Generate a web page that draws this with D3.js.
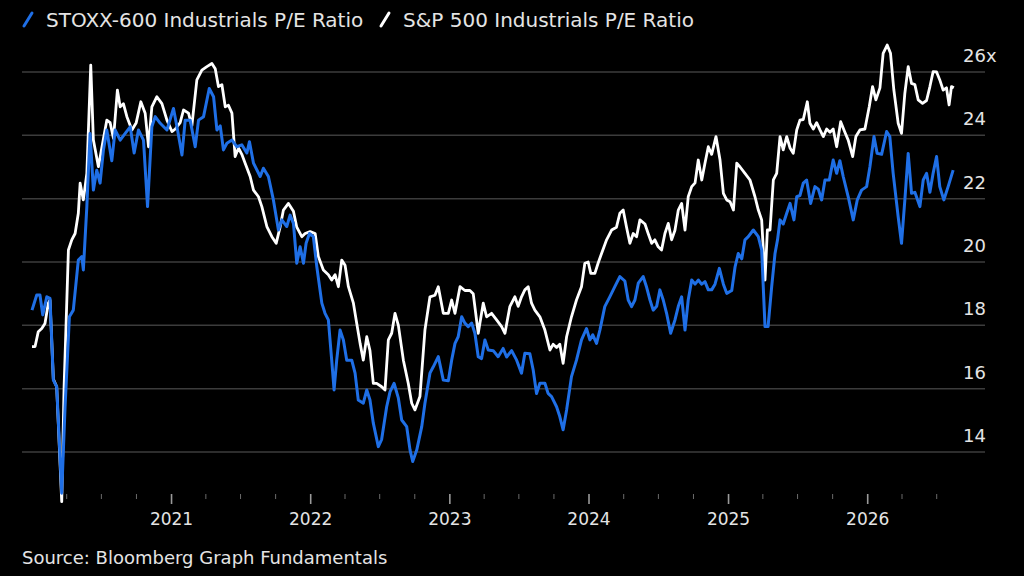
<!DOCTYPE html>
<html>
<head>
<meta charset="utf-8">
<script src="https://cdn.jsdelivr.net/npm/d3@7"></script>
<style>
  html, body { margin: 0; padding: 0; background: #000; }
  svg { display: block; }
  text { font-family: "DejaVu Sans", Verdana, sans-serif; fill: #e4e4e4; }
</style>
</head>
<body>
<svg id="chart" width="1024" height="576"></svg>
<script>
// dates are decimal years (2020.5 = mid 2020)
const stoxxTime = [
  2020.000, 2020.034, 2020.057, 2020.077, 2020.106, 2020.129, 2020.153, 2020.177, 2020.213, 2020.237,
  2020.268, 2020.296, 2020.332, 2020.357, 2020.368, 2020.393, 2020.416, 2020.440, 2020.464, 2020.488,
  2020.512, 2020.536, 2020.572, 2020.596, 2020.632, 2020.668, 2020.704, 2020.732, 2020.763, 2020.799,
  2020.828, 2020.859, 2020.883, 2020.919, 2020.967, 2021.014, 2021.039, 2021.075, 2021.098, 2021.134,
  2021.170, 2021.194, 2021.230, 2021.271, 2021.302, 2021.326, 2021.350, 2021.373, 2021.398, 2021.434,
  2021.469, 2021.505, 2021.541, 2021.560, 2021.589, 2021.637, 2021.660, 2021.696, 2021.732, 2021.768,
  2021.793, 2021.828, 2021.852, 2021.876, 2021.900, 2021.924, 2021.948, 2021.967, 2021.991, 2022.019,
  2022.044, 2022.080, 2022.103, 2022.127, 2022.151, 2022.168, 2022.187, 2022.211, 2022.235, 2022.259,
  2022.295, 2022.319, 2022.342, 2022.378, 2022.403, 2022.426, 2022.450, 2022.486, 2022.510, 2022.546,
  2022.570, 2022.599, 2022.630, 2022.654, 2022.690, 2022.714, 2022.733, 2022.762, 2022.798, 2022.821,
  2022.857, 2022.881, 2022.917, 2022.953, 2022.989, 2023.013, 2023.037, 2023.060, 2023.085, 2023.108,
  2023.132, 2023.157, 2023.180, 2023.204, 2023.228, 2023.252, 2023.276, 2023.312, 2023.347, 2023.383,
  2023.408, 2023.444, 2023.480, 2023.515, 2023.539, 2023.575, 2023.599, 2023.623, 2023.647, 2023.683,
  2023.706, 2023.731, 2023.767, 2023.790, 2023.814, 2023.839, 2023.874, 2023.910, 2023.946, 2023.982,
  2024.006, 2024.027, 2024.054, 2024.078, 2024.113, 2024.149, 2024.185, 2024.221, 2024.257, 2024.281,
  2024.305, 2024.329, 2024.353, 2024.388, 2024.413, 2024.437, 2024.460, 2024.485, 2024.508, 2024.532,
  2024.556, 2024.585, 2024.616, 2024.640, 2024.664, 2024.688, 2024.711, 2024.736, 2024.760, 2024.783,
  2024.808, 2024.831, 2024.855, 2024.879, 2024.903, 2024.934, 2024.963, 2024.987, 2025.023, 2025.047,
  2025.070, 2025.095, 2025.118, 2025.142, 2025.178, 2025.214, 2025.238, 2025.262, 2025.284, 2025.310,
  2025.334, 2025.352, 2025.370, 2025.393, 2025.418, 2025.442, 2025.470, 2025.490, 2025.513, 2025.537,
  2025.561, 2025.590, 2025.621, 2025.645, 2025.669, 2025.693, 2025.724, 2025.752, 2025.777, 2025.800,
  2025.824, 2025.860, 2025.896, 2025.925, 2025.956, 2025.992, 2026.016, 2026.045, 2026.068, 2026.100,
  2026.136, 2026.159, 2026.183, 2026.219, 2026.243, 2026.267, 2026.291, 2026.315, 2026.339, 2026.375,
  2026.399, 2026.423, 2026.447, 2026.470, 2026.495, 2026.518, 2026.547, 2026.578, 2026.614
];
const stoxxPE = [
  18.48, 18.96, 18.96, 18.33, 18.90, 18.85, 16.27, 16.06, 12.70, 15.43,
  18.27, 18.48, 20.06, 20.17, 19.75, 21.75, 24.06, 22.27, 22.90, 22.49,
  23.54, 24.17, 23.20, 24.17, 23.85, 24.06, 24.27, 23.44, 24.17, 23.85,
  21.75, 24.27, 24.59, 24.38, 24.17, 24.85, 24.27, 23.38, 24.48, 24.48,
  23.64, 24.48, 24.59, 25.48, 25.22, 24.17, 24.30, 23.54, 23.75, 23.85,
  23.64, 23.70, 23.44, 23.80, 23.12, 22.70, 22.96, 22.70, 21.96, 21.01,
  21.33, 21.12, 21.48, 21.22, 19.96, 20.48, 19.96, 20.59, 20.90, 20.80,
  19.85, 18.70, 18.38, 18.17, 16.90, 15.96, 16.90, 17.85, 17.54, 16.90,
  16.90, 16.49, 15.64, 15.54, 15.96, 15.64, 14.91, 14.17, 14.40, 15.43,
  15.90, 16.17, 15.70, 15.01, 14.80, 14.06, 13.70, 14.06, 14.80, 15.54,
  16.49, 16.69, 17.01, 16.27, 16.25, 16.90, 17.43, 17.64, 18.27, 18.07,
  17.96, 18.07, 17.75, 17.01, 16.95, 17.54, 17.22, 17.20, 17.01, 17.27,
  17.00, 17.20, 16.90, 16.49, 17.12, 17.10, 16.59, 15.85, 16.17, 16.17,
  15.85, 15.75, 15.43, 15.12, 14.70, 15.33, 16.38, 16.90, 17.54, 17.90,
  17.54, 17.70, 17.43, 17.85, 18.59, 18.90, 19.22, 19.54, 19.40, 18.80,
  18.59, 18.80, 19.33, 19.54, 19.20, 18.80, 18.48, 18.60, 19.12, 18.80,
  18.38, 17.75, 18.17, 18.60, 18.90, 17.85, 18.80, 19.43, 19.30, 19.43,
  19.30, 19.38, 19.12, 19.12, 19.30, 19.80, 19.30, 19.01, 19.10, 19.85,
  20.27, 20.10, 20.70, 20.80, 21.01, 20.80, 20.38, 17.96, 17.96, 19.22,
  20.27, 20.70, 21.33, 21.20, 21.54, 21.85, 21.33, 22.06, 22.10, 22.49,
  22.59, 21.85, 22.38, 22.30, 21.96, 22.59, 22.59, 23.22, 22.80, 23.20,
  22.70, 22.06, 21.33, 21.96, 22.27, 22.38, 23.01, 23.96, 23.43, 23.40,
  24.12, 23.96, 22.80, 21.43, 20.59, 21.96, 23.43, 22.17, 22.20, 21.75,
  22.59, 22.80, 22.20, 22.80, 23.33, 22.38, 21.96, 22.38, 22.90
];

const spxTime = [
  2020.000, 2020.022, 2020.045, 2020.070, 2020.093, 2020.117, 2020.129, 2020.153, 2020.177, 2020.213,
  2020.230, 2020.261, 2020.285, 2020.309, 2020.332, 2020.345, 2020.368, 2020.393, 2020.421, 2020.440,
  2020.476, 2020.500, 2020.536, 2020.560, 2020.584, 2020.612, 2020.632, 2020.655, 2020.680, 2020.716,
  2020.747, 2020.780, 2020.811, 2020.835, 2020.859, 2020.895, 2020.931, 2020.967, 2021.003, 2021.027,
  2021.062, 2021.086, 2021.122, 2021.146, 2021.182, 2021.218, 2021.254, 2021.290, 2021.314, 2021.337,
  2021.362, 2021.386, 2021.409, 2021.434, 2021.457, 2021.481, 2021.505, 2021.529, 2021.565, 2021.589,
  2021.625, 2021.649, 2021.685, 2021.721, 2021.752, 2021.780, 2021.804, 2021.840, 2021.876, 2021.900,
  2021.936, 2021.960, 2021.996, 2022.032, 2022.055, 2022.091, 2022.127, 2022.151, 2022.175, 2022.199,
  2022.223, 2022.247, 2022.271, 2022.307, 2022.331, 2022.355, 2022.378, 2022.403, 2022.426, 2022.450,
  2022.474, 2022.510, 2022.534, 2022.558, 2022.582, 2022.606, 2022.630, 2022.666, 2022.701, 2022.726,
  2022.749, 2022.785, 2022.821, 2022.857, 2022.893, 2022.917, 2022.953, 2022.989, 2023.013, 2023.037,
  2023.073, 2023.108, 2023.144, 2023.168, 2023.204, 2023.240, 2023.264, 2023.300, 2023.336, 2023.372,
  2023.396, 2023.431, 2023.467, 2023.491, 2023.515, 2023.539, 2023.563, 2023.587, 2023.611, 2023.647,
  2023.683, 2023.719, 2023.742, 2023.767, 2023.790, 2023.814, 2023.839, 2023.874, 2023.910, 2023.946,
  2023.970, 2023.994, 2024.013, 2024.042, 2024.065, 2024.090, 2024.126, 2024.162, 2024.197, 2024.221,
  2024.245, 2024.269, 2024.293, 2024.317, 2024.341, 2024.365, 2024.401, 2024.424, 2024.449, 2024.472,
  2024.496, 2024.520, 2024.544, 2024.568, 2024.592, 2024.616, 2024.640, 2024.664, 2024.688, 2024.711,
  2024.736, 2024.760, 2024.783, 2024.808, 2024.831, 2024.855, 2024.879, 2024.910, 2024.939, 2024.963,
  2024.987, 2025.011, 2025.035, 2025.059, 2025.083, 2025.118, 2025.154, 2025.190, 2025.214, 2025.238,
  2025.262, 2025.279, 2025.298, 2025.322, 2025.346, 2025.370, 2025.393, 2025.418, 2025.442, 2025.465,
  2025.490, 2025.513, 2025.537, 2025.566, 2025.585, 2025.609, 2025.633, 2025.657, 2025.681, 2025.705,
  2025.729, 2025.752, 2025.777, 2025.806, 2025.836, 2025.860, 2025.892, 2025.915, 2025.944, 2025.980,
  2026.011, 2026.035, 2026.059, 2026.088, 2026.111, 2026.140, 2026.164, 2026.188, 2026.219, 2026.243,
  2026.267, 2026.291, 2026.315, 2026.339, 2026.363, 2026.394, 2026.423, 2026.447, 2026.470, 2026.495,
  2026.518, 2026.542, 2026.566, 2026.585, 2026.602, 2026.619
];
const spxPE = [
  17.33, 17.33, 17.80, 17.90, 18.06, 18.70, 18.80, 16.30, 16.06, 12.43,
  16.06, 20.38, 20.70, 20.90, 21.54, 22.49, 21.96, 22.80, 26.22, 23.85,
  23.01, 23.60, 24.48, 24.40, 23.90, 25.43, 24.90, 25.00, 24.59, 24.17,
  24.40, 25.06, 24.70, 23.64, 24.90, 25.22, 25.00, 24.48, 24.12, 24.20,
  24.40, 24.80, 24.70, 24.30, 25.75, 26.06, 26.17, 26.27, 26.10, 25.54,
  25.60, 24.90, 24.95, 24.70, 23.33, 23.60, 23.40, 23.12, 22.70, 22.27,
  22.06, 21.75, 21.12, 20.80, 20.59, 21.10, 21.64, 21.85, 21.60, 21.10,
  20.80, 20.90, 20.96, 20.90, 20.17, 19.75, 19.60, 19.43, 19.60, 19.22,
  20.06, 19.90, 19.22, 18.70, 18.06, 17.43, 16.90, 17.64, 17.20, 16.17,
  16.17, 16.06, 15.96, 17.54, 17.75, 18.38, 18.00, 16.90, 16.17, 15.54,
  15.33, 15.75, 17.85, 18.90, 18.95, 19.22, 18.38, 18.38, 18.80, 18.38,
  19.22, 19.10, 19.10, 19.00, 17.75, 18.70, 18.27, 18.38, 18.17, 17.96,
  17.75, 18.59, 18.90, 18.60, 18.90, 19.12, 19.22, 18.70, 18.48, 18.27,
  17.85, 17.22, 17.40, 17.30, 17.40, 16.80, 17.64, 18.27, 18.80, 19.22,
  19.96, 20.00, 19.64, 19.64, 19.96, 20.27, 20.70, 21.01, 21.10, 21.54,
  21.64, 21.10, 20.59, 20.90, 20.80, 21.33, 21.20, 20.90, 20.59, 20.70,
  20.48, 20.38, 20.90, 21.22, 20.70, 21.00, 21.64, 21.85, 21.01, 22.06,
  22.38, 22.50, 23.22, 22.59, 23.12, 23.64, 23.40, 23.96, 23.22, 22.17,
  21.96, 21.90, 21.64, 23.12, 23.00, 22.80, 22.59, 22.06, 21.64, 21.33,
  19.43, 21.01, 21.01, 22.59, 22.80, 23.96, 23.54, 23.96, 23.60, 23.43,
  24.17, 24.48, 24.50, 25.06, 24.38, 24.20, 24.40, 24.17, 23.96, 24.20,
  24.10, 24.20, 23.64, 24.43, 24.10, 23.85, 23.33, 23.96, 24.17, 24.20,
  24.90, 25.54, 25.12, 25.50, 26.59, 26.85, 26.59, 25.43, 24.38, 24.06,
  25.33, 26.17, 25.64, 25.60, 25.12, 25.01, 25.10, 25.54, 26.01, 26.00,
  25.75, 25.43, 25.50, 24.96, 25.54, 25.50
];

const seriesNames = ["STOXX-600 Industrials P/E Ratio", "S&P 500 Industrials P/E Ratio"];
const yTicks = [14, 16, 18, 20, 22, 24, 26];
const yearLabels = ["2021", "2022", "2023", "2024", "2025", "2026"];
const sourceNote = "Source: Bloomberg Graph Fundamentals";

const colors = { stoxx: "#1f6fe6", spx: "#ffffff", grid: "#3c3c3c", tick: "#6a6a6a" };

// decimal year -> Date
function toDate(t) {
  const yr = Math.floor(t);
  const a = new Date(yr, 0, 1), b = new Date(yr + 1, 0, 1);
  return new Date(+a + (t - yr) * (b - a));
}

const stoxx = stoxxTime.map((t, i) => ({ date: toDate(t), value: stoxxPE[i] }));
const spx = spxTime.map((t, i) => ({ date: toDate(t), value: spxPE[i] }));

const svg = d3.select("#chart");
const gridLeft = 22, gridRight = 985;

const x = d3.scaleTime()
  .domain([new Date(2020, 0, 1), new Date(2026, 0, 1)])
  .range([32, 867.7]);

const y = d3.scaleLinear()
  .domain([14, 26])
  .range([452, 72]);

// horizontal gridlines
svg.append("g")
  .selectAll("line")
  .data(yTicks)
  .join("line")
    .attr("x1", gridLeft)
    .attr("x2", gridRight)
    .attr("y1", d => y(d))
    .attr("y2", d => y(d))
    .attr("stroke", colors.grid)
    .attr("stroke-width", 1.5);

// y labels sit above their gridline, top one carries the "x"
svg.append("g")
  .selectAll("text")
  .data(yTicks)
  .join("text")
    .attr("x", 963)
    .attr("y", d => y(d) - 10)
    .attr("font-size", 18)
    .text(d => d === 26 ? d + "x" : d);

// x axis: quarterly minor ticks, yearly major ticks + labels
const axisY = 494;
const quarters = d3.timeMonth.every(3).range(new Date(2020, 3, 1), new Date(2026, 8, 1));
svg.append("g")
  .selectAll("line")
  .data(quarters)
  .join("line")
    .attr("x1", d => x(d))
    .attr("x2", d => x(d))
    .attr("y1", axisY)
    .attr("y2", d => d.getMonth() === 0 ? axisY + 10 : axisY + 5)
    .attr("stroke", d => d.getMonth() === 0 ? "#9a9a9a" : colors.tick)
    .attr("stroke-width", d => d.getMonth() === 0 ? 1.6 : 1);

svg.append("g")
  .selectAll("text")
  .data(yearLabels)
  .join("text")
    .attr("x", d => x(new Date(+d, 0, 1)))
    .attr("y", 525)
    .attr("text-anchor", "middle")
    .attr("font-size", 17)
    .text(d => d);

// lines
const line = d3.line()
  .x(d => x(d.date))
  .y(d => y(d.value));

svg.append("path")
  .datum(spx)
  .attr("d", line)
  .attr("fill", "none")
  .attr("stroke", colors.spx)
  .attr("stroke-width", 2.8)
  .attr("stroke-linejoin", "round");

svg.append("path")
  .datum(stoxx)
  .attr("d", line)
  .attr("fill", "none")
  .attr("stroke", colors.stoxx)
  .attr("stroke-width", 3)
  .attr("stroke-linejoin", "round");

// legend
const legend = svg.append("g");
const legendItems = [
  { name: seriesNames[0], color: colors.stoxx, x: 24 },
  { name: seriesNames[1], color: colors.spx, x: 381 }
];
legendItems.forEach(item => {
  legend.append("line")
    .attr("x1", item.x).attr("y1", 26)
    .attr("x2", item.x + 8).attr("y2", 13)
    .attr("stroke", item.color)
    .attr("stroke-width", 3)
    .attr("stroke-linecap", "round");
  legend.append("text")
    .attr("x", item.x + 22)
    .attr("y", 27)
    .attr("font-size", 20)
    .text(item.name);
});

svg.append("text")
  .attr("x", 22)
  .attr("y", 564)
  .attr("font-size", 18)
  .text(sourceNote);
</script>
</body>
</html>
